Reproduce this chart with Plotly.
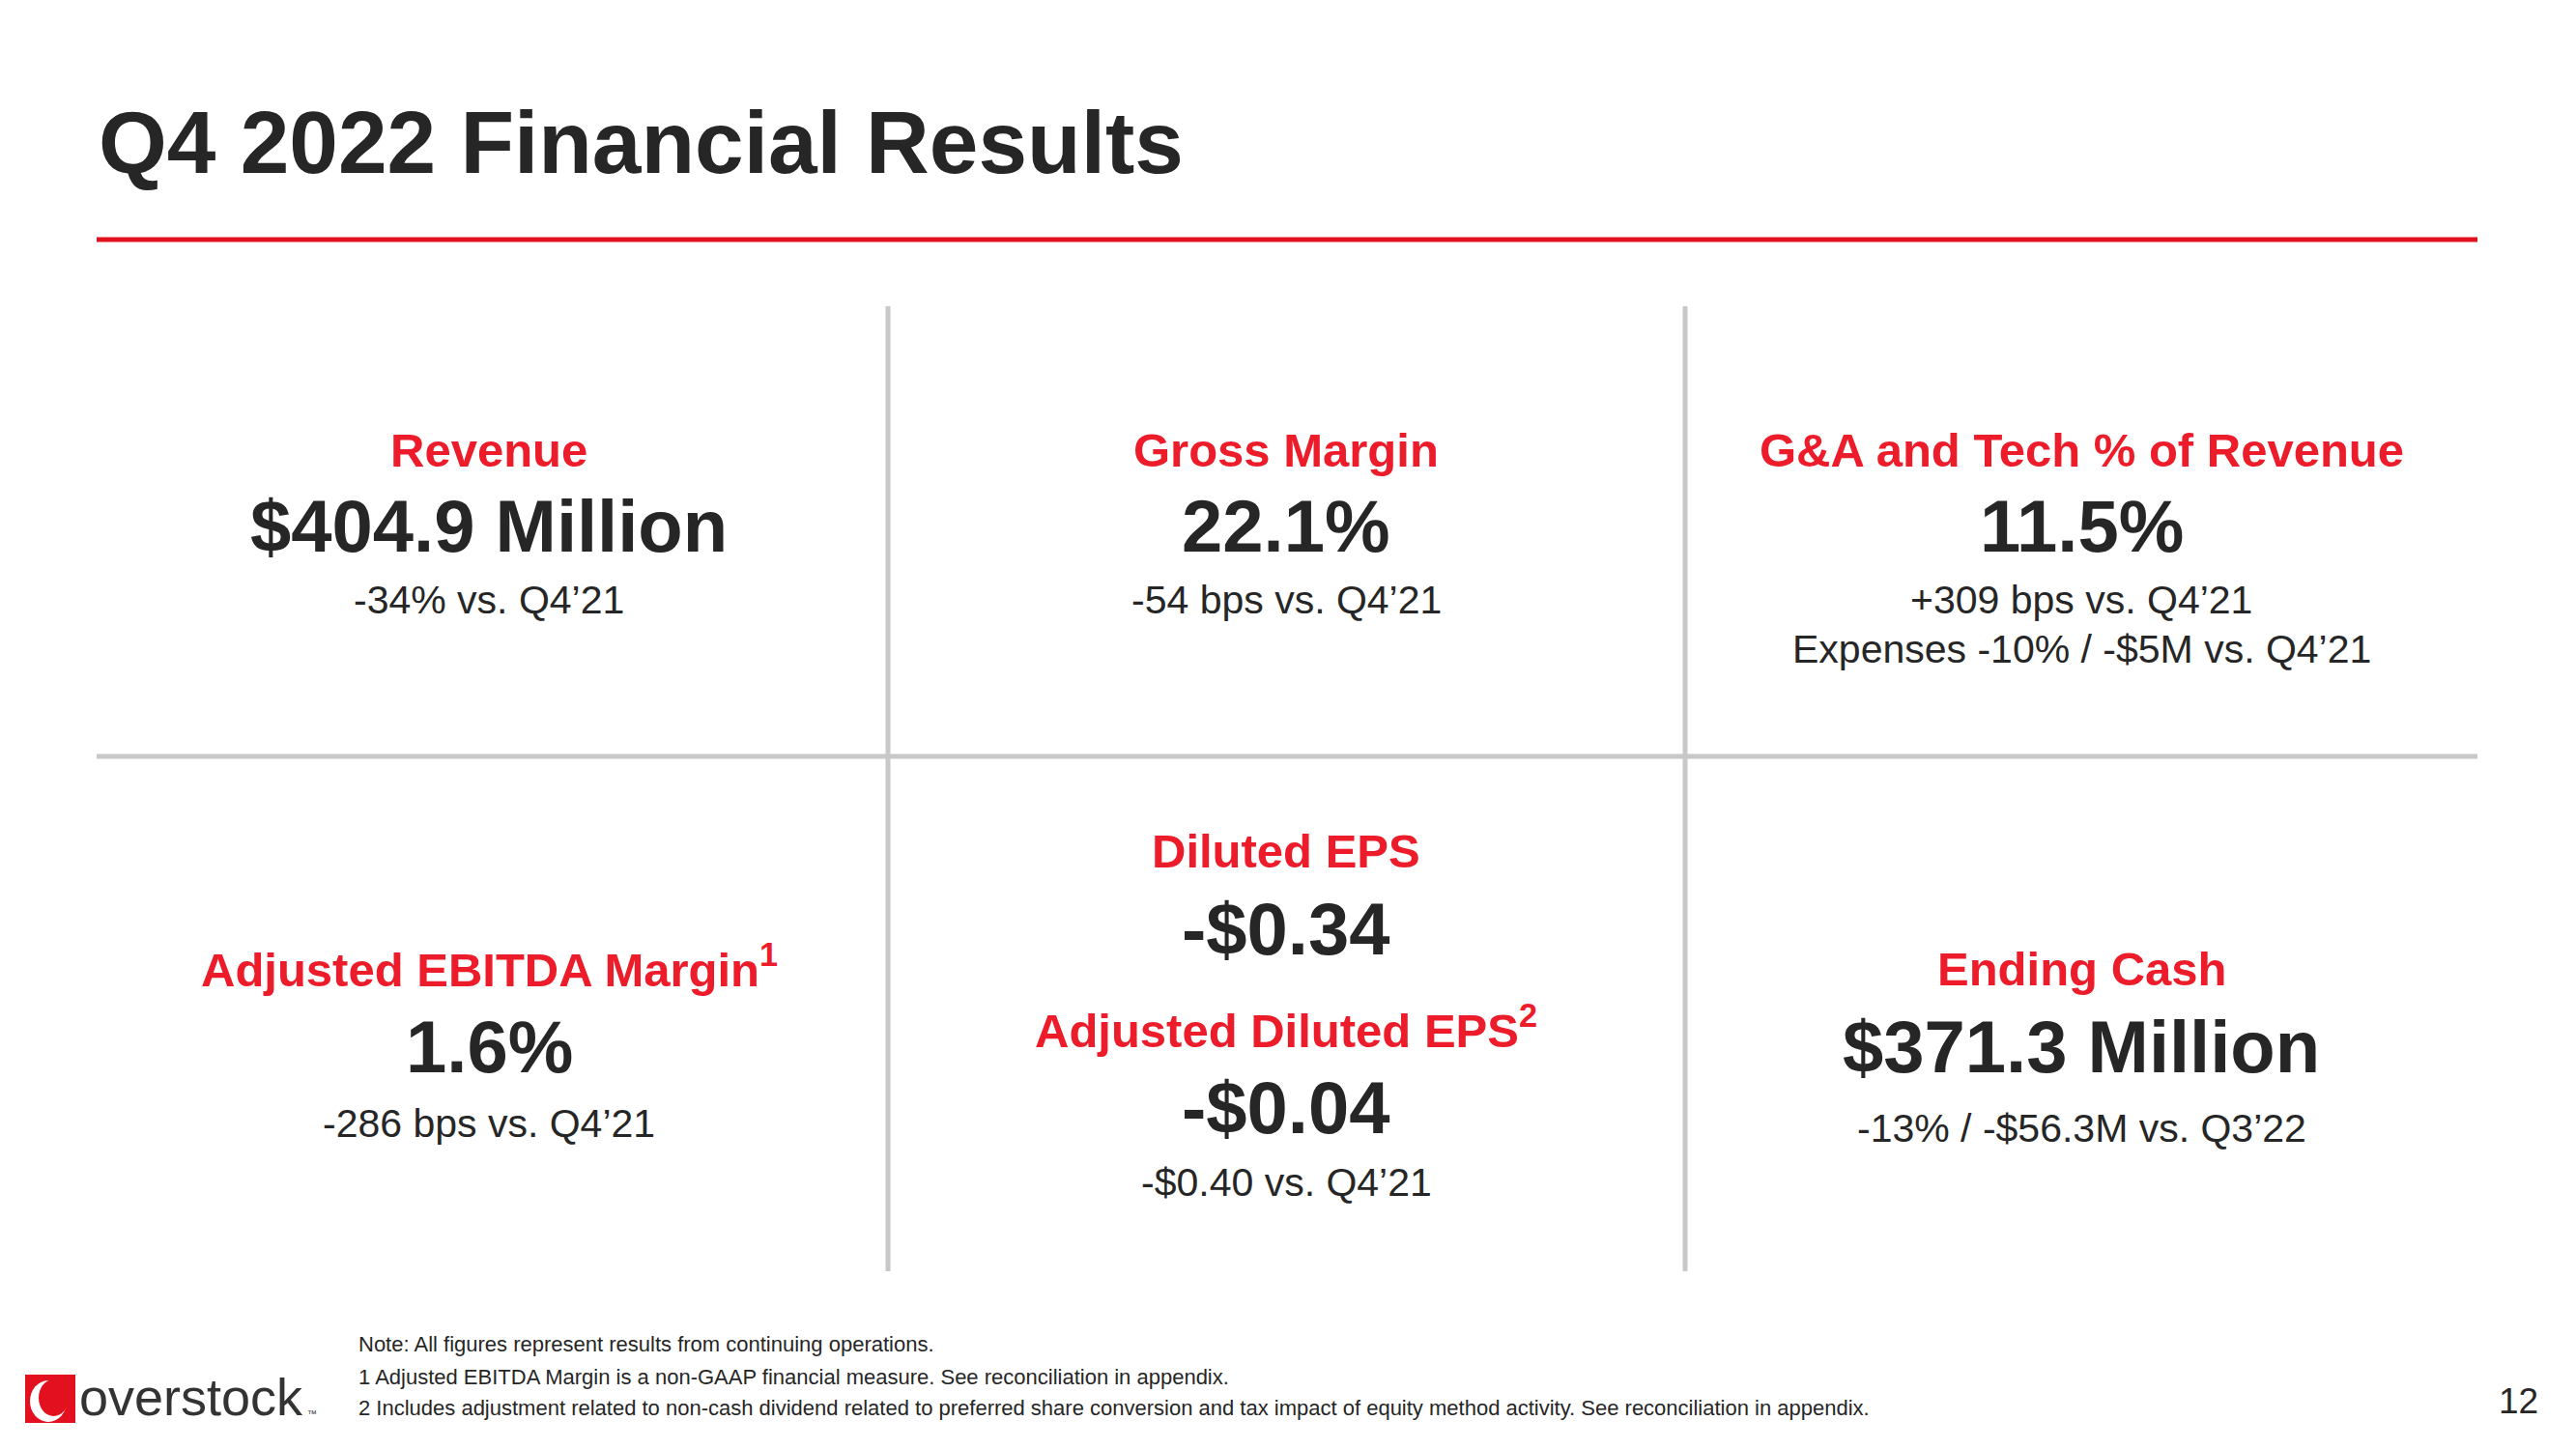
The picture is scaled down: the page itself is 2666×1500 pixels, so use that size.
import plotly.graph_objects as go

# ---------------- data ----------------
title = "Q4 2022 Financial Results"
metric_labels = ["Revenue", "Gross Margin", "G&A and Tech % of Revenue",
                 "Adjusted EBITDA Margin<sup>1</sup>", "Diluted EPS",
                 "Adjusted Diluted EPS<sup>2</sup>", "Ending Cash"]
metric_values = [404.9, 22.1, 11.5, 1.6, -0.34, -0.04, 371.3]
value_kinds = ["million", "pct", "pct", "pct", "usd", "usd", "million"]
comparisons = [
    ["-34% vs. Q4’21"],
    ["-54 bps vs. Q4’21"],
    ["+309 bps vs. Q4’21", "Expenses -10% / -$5M vs. Q4’21"],
    ["-286 bps vs. Q4’21"],
    [],
    ["-$0.40 vs. Q4’21"],
    ["-13% / -$56.3M vs. Q3’22"],
]
footnotes = [
    "Note: All figures represent results from continuing operations.",
    "1 Adjusted EBITDA Margin is a non-GAAP financial measure. See reconciliation in appendix.",
    "2 Includes adjustment related to non-cash dividend related to preferred share conversion and tax impact of equity method activity. See reconciliation in appendix.",
]
page_number = "12"
brand = "overstock"

# ---------------- layout / style ----------------
W, H = 2666, 1500
FONT = "Liberation Sans, Arial, sans-serif"
RED = "#ED1C2A"
DARK = "#262626"
GRID = "#C8C8C8"

# centre x, label y, value y, comparison y (first line) for each metric
cell_x = [506, 1331, 2154, 506, 1331, 1331, 2154]
label_y = [466, 466, 466, 1003, 881, 1066, 1003]
value_y = [544, 544, 544, 1083, 961, 1146, 1083]
comp_y = [621, 621, 621, 1163, None, 1224, 1168]
COMP_STEP = 51


def fmt(v, kind):
    if kind == "million":
        return f"${v:.1f} Million"
    if kind == "pct":
        return f"{v:.1f}%"
    if kind == "usd":
        return f"-${abs(v):.2f}" if v < 0 else f"${v:.2f}"
    return str(v)


fig = go.Figure()
fig.add_trace(go.Scatter(x=[0, W], y=[0, H], mode="markers",
                         marker=dict(opacity=0), hoverinfo="skip", showlegend=False))

ann = []
# title
ann.append(dict(x=100, y=147, text=f"<b>{title}</b>", xanchor="left", yanchor="middle",
                font=dict(family=FONT, size=91, color=DARK)))

for i, lab in enumerate(metric_labels):
    dy = -3 if "<sup>" in lab else 0
    ann.append(dict(x=cell_x[i], y=label_y[i] + dy, text=f"<b>{lab}</b>",
                    xanchor="center", yanchor="middle",
                    font=dict(family=FONT, size=49, color=RED)))
    ann.append(dict(x=cell_x[i], y=value_y[i], text=f"<b>{fmt(metric_values[i], value_kinds[i])}</b>",
                    xanchor="center", yanchor="middle",
                    font=dict(family=FONT, size=76, color=DARK)))
    for j, c in enumerate(comparisons[i]):
        ann.append(dict(x=cell_x[i], y=comp_y[i] + j * COMP_STEP, text=c,
                        xanchor="center", yanchor="middle",
                        font=dict(family=FONT, size=41, color=DARK)))

# footnotes
foot_y = [1391, 1425, 1457]
for t, yy in zip(footnotes, foot_y):
    ann.append(dict(x=369, y=yy, text=t, xanchor="left", yanchor="middle",
                    font=dict(family=FONT, size=22, color=DARK)))

# page number
ann.append(dict(x=2606, y=1450, text=page_number, xanchor="center", yanchor="middle",
                font=dict(family=FONT, size=37, color=DARK)))

# brand wordmark
ann.append(dict(x=80, y=1446, text=brand, xanchor="left", yanchor="middle",
                font=dict(family=FONT, size=54, color="#333333")))
ann.append(dict(x=316, y=1463, text="™", xanchor="left", yanchor="middle",
                font=dict(family=FONT, size=10, color="#333333")))

for a in ann:
    a.update(xref="x", yref="y", showarrow=False)

shapes = [
    # red rule under title
    dict(type="line", x0=100, x1=2564, y0=248, y1=248, line=dict(color="#E3101F", width=5)),
    # grid
    dict(type="line", x0=100, x1=2564, y0=783, y1=783, line=dict(color=GRID, width=5)),
    dict(type="line", x0=919, x1=919, y0=317, y1=1316, line=dict(color=GRID, width=5)),
    dict(type="line", x0=1744, x1=1744, y0=317, y1=1316, line=dict(color=GRID, width=5)),
    # logo mark
    dict(type="rect", x0=26, x1=78, y0=1423, y1=1473, fillcolor="#E3101F", line=dict(width=0)),
    dict(type="circle", x0=31, x1=69, y0=1429, y1=1472, fillcolor="white", line=dict(width=0)),
    dict(type="circle", x0=40, x1=71, y0=1428, y1=1466, fillcolor="#E3101F", line=dict(width=0)),
]
for s in shapes:
    s.update(xref="x", yref="y", layer="above")

fig.update_layout(
    width=W, height=H, margin=dict(l=0, r=0, t=0, b=0),
    paper_bgcolor="white", plot_bgcolor="white",
    xaxis=dict(range=[0, W], visible=False, fixedrange=True),
    yaxis=dict(range=[H, 0], visible=False, fixedrange=True),
    annotations=ann, shapes=shapes, showlegend=False,
)

fig.write_html("out.html", config={"displayModeBar": False},
               post_script="document.body.style.margin='0px';document.body.style.overflow='hidden';")
